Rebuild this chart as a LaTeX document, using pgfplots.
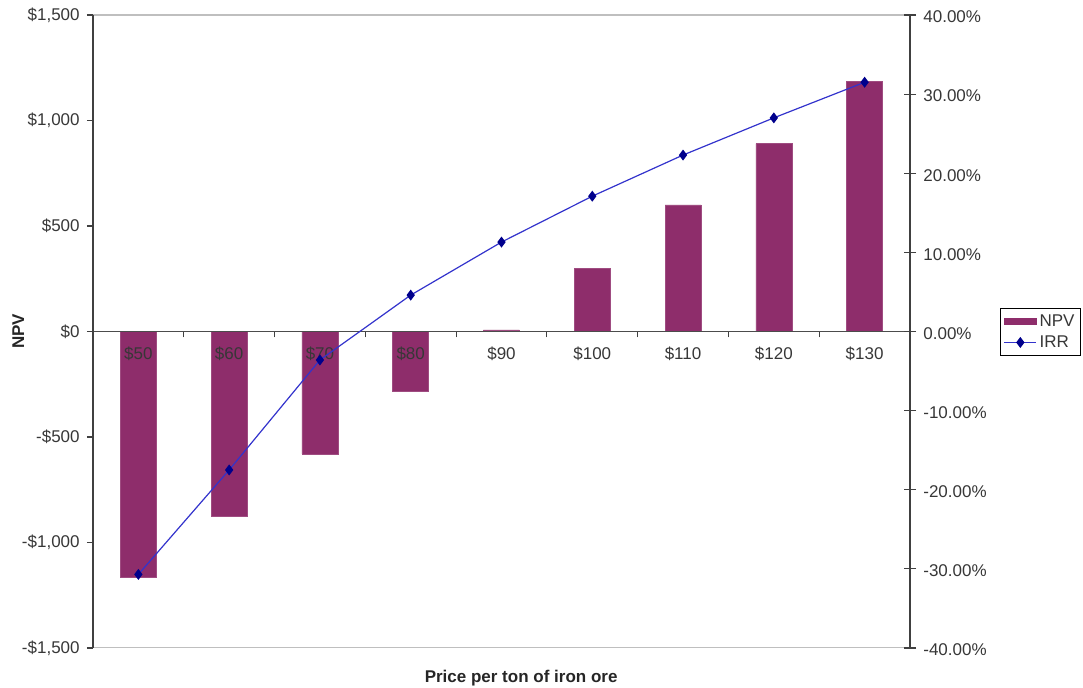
\documentclass[border=0pt]{standalone}
\usepackage{pgfplots}
\pgfplotsset{compat=1.18}
\usepackage{fontspec}
\setmainfont{Liberation Sans}
\definecolor{npv}{RGB}{142,45,107}
\definecolor{irrline}{RGB}{51,51,204}
\definecolor{irrmark}{RGB}{0,0,140}
\definecolor{txt}{RGB}{55,55,55}
\newcommand{\tfont}{\fontsize{12.75}{15}\selectfont}
\pgfplotsset{
  irrleg/.style={legend image code/.code={\draw[mark repeat=2,mark phase=2,##1] plot coordinates {(0pt,0pt) (12pt,0pt) (24pt,0pt)};}},
  npvleg/.style={legend image code/.code={\fill[npv] (0pt,-2.5pt) rectangle (24pt,2.5pt);}},
}
\begin{document}
\begin{tikzpicture}
\path[use as bounding box] (-69.75pt,-30pt) rectangle (742.5pt,486pt);
\begin{axis}[
  scale only axis, width=612.75pt, height=474.75pt,
  at={(0pt,0pt)}, anchor=south west,
  axis on top,
  xmin=-0.5, xmax=8.5, ymin=-1500, ymax=1500,
  axis x line=middle, axis y line*=left,
  x axis line style={-, black!70, line width=0.8pt},
  y axis line style={-, black!75, line width=1pt},
  hide obscured x ticks=false, hide obscured y ticks=false,
  xtick={0.5,1.5,...,7.5}, xticklabels={},
  extra x ticks={0,1,2,3,4,5,6,7,8},
  extra x tick labels={\$50,\$60,\$70,\$80,\$90,\$100,\$110,\$120,\$130},
  extra x tick style={major tick length=0pt, tick label style={yshift=-8pt}},
  ytick={-1500,-1000,-500,0,500,1000,1500},
  yticklabels={{-\$1,500},{-\$1,000},{-\$500},{\$0},{\$500},{\$1,000},{\$1,500}},
  tick align=outside, major tick length=4.5pt,
  tick style={black!75, line width=0.8pt},
  ticklabel style={font=\tfont, text=txt},
  yticklabel style={xshift=-2pt},
  xlabel={Price per ton of iron ore}, ylabel={NPV},
  xlabel style={at={([yshift=-22.5pt]axis description cs:0.524,0)}, anchor=center, font=\bfseries\tfont, text=black!85},
  ylabel style={at={([xshift=-56pt]axis description cs:0,0.5)}, anchor=center, font=\bfseries\tfont, text=black!85},
]
\draw[black!25, line width=1pt] (rel axis cs:0,1) -- (rel axis cs:1,1);
\draw[black!25, line width=1pt] (rel axis cs:0,0) -- (rel axis cs:1,0);
\addplot[ybar, bar width=27pt, fill=npv, draw=npv!85!white] coordinates {
 (0,-1165) (1,-875) (2,-580) (3,-282) (4,8) (5,300) (6,600) (7,890) (8,1185)};
\end{axis}
\begin{axis}[
  scale only axis, width=612.75pt, height=474.75pt,
  at={(0pt,0pt)}, anchor=south west,
  xmin=-0.5, xmax=8.5, ymin=-40, ymax=40,
  axis x line=none, axis y line*=right,
  y axis line style={-, black!75, line width=1pt},
  ytick={-40,-30,-20,-10,0,10,20,30,40},
  /pgf/number format/assume math mode=true,
  yticklabel={\pgfmathprintnumber[fixed,fixed zerofill,precision=2]{\tick}\%},
  tick align=center, major tick length=9pt,
  tick style={black!75, line width=0.8pt},
  ticklabel style={font=\tfont, text=txt},
  yticklabel style={xshift=2pt, yshift=-1.5pt},
  legend style={at={(axis description cs:1.110,0.537)}, anchor=north west,
    draw=black, line width=0.8pt, font=\tfont, text=txt,
    inner sep=2.5pt, row sep=1.5pt},
  legend cell align=left,
]
\addlegendimage{npvleg}
\addlegendentry{NPV}
\addplot[irrleg, color=irrline, line width=0.9pt, mark=diamond*, mark size=3.4pt,
  mark options={fill=irrmark, draw=irrmark}]
 coordinates {(0,-30.7) (1,-17.5) (2,-3.6) (3,4.6) (4,11.3) (5,17.1) (6,22.3) (7,27.0) (8,31.5)};
\addlegendentry{IRR}
\end{axis}
\end{tikzpicture}
\end{document}
